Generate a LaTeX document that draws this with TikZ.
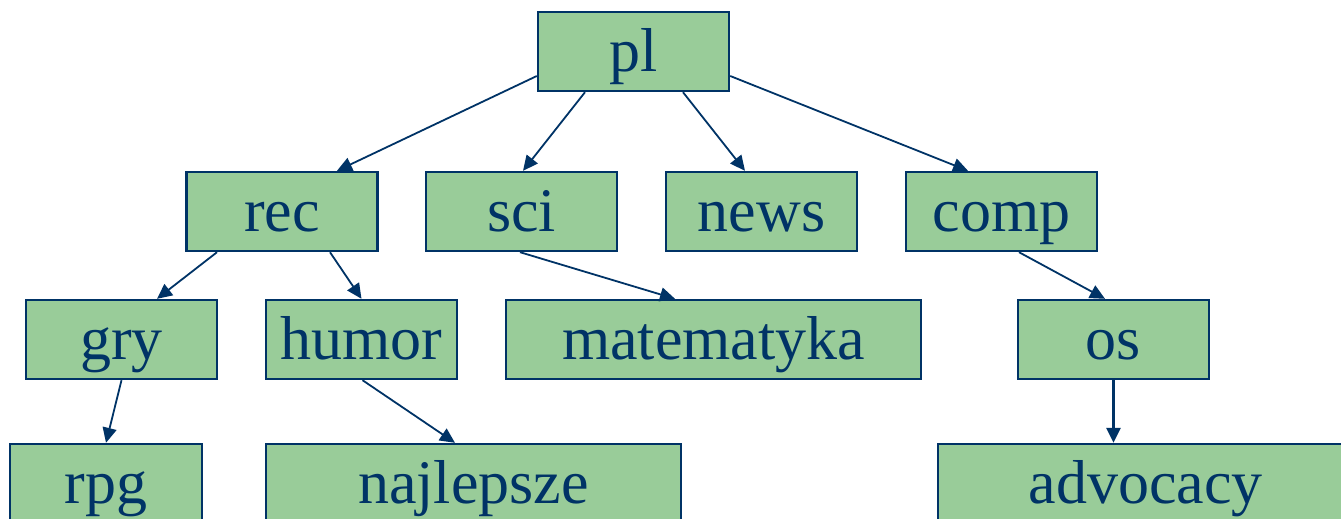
\documentclass[tikz,border=0pt]{standalone}
\usepackage{fontspec}
\setmainfont{Liberation Serif}
\usetikzlibrary{arrows.meta}
\definecolor{boxfill}{HTML}{99CC99}
\definecolor{navy}{HTML}{003366}
\begin{document}
\begin{tikzpicture}[x=1pt,y=-1pt,
  box/.style={draw=navy,fill=boxfill,line width=2.4pt,rectangle,inner sep=0pt,
    minimum width=191pt,minimum height=79pt,text=navy,
    font=\fontsize{62}{62}\selectfont,text height=40pt,text depth=0pt},
  widebox/.style={box,minimum width=415pt},
  conn/.style={draw=navy,line width=1.8pt,-{Triangle[length=15pt,width=14pt]}},
  thickconn/.style={conn,line width=3pt}]
\useasboundingbox (0,0) rectangle (1341,519);
\clip (0,0) rectangle (1341,519);
\node[box] (pl) at (633.5,51.5) {pl};
\node[box] (rec) at (282,211.5) {rec};
\node[box] (sci) at (521.5,211.5) {sci};
\node[box] (news) at (761.5,211.5) {news};
\node[box] (comp) at (1001.5,211.5) {comp};
\node[box] (gry) at (121.5,339.5) {gry};
\node[box] (humor) at (361.5,339.5) {humor};
\node[widebox] (mat) at (713.5,339.5) {matematyka};
\node[box] (os) at (1113.5,339.5) {os};
\node[box,minimum width=192pt] (rpg) at (106,483.5) {rpg};
\node[widebox] (naj) at (473.5,483.5) {najlepsze};
\node[widebox] (adv) at (1145.5,483.5) {advocacy};
\draw[conn] ([yshift=-24.5pt]pl.west) -- ([xshift=55pt]rec.north);
\draw[conn] ([xshift=-48.5pt]pl.south) -- ([xshift=1.5pt]sci.north);
\draw[conn] ([xshift=49.5pt]pl.south) -- ([xshift=-16.5pt]news.north);
\draw[conn] ([yshift=-24.5pt]pl.east) -- ([xshift=-33.5pt]comp.north);
\draw[conn] ([xshift=-65pt]rec.south) -- ([xshift=35.5pt]gry.north);
\draw[conn] ([xshift=48pt]rec.south) -- (humor.north);
\draw[conn] ([xshift=-1.5pt]sci.south) -- ([xshift=-38.5pt]mat.north);
\draw[conn] ([xshift=17.5pt]comp.south) -- ([xshift=-8.5pt]os.north);
\draw[conn] (gry.south) -- (rpg.north);
\draw[conn] ([xshift=1pt]humor.south) -- ([xshift=-18.5pt]naj.north);
\draw[thickconn] (os.south) -- ([xshift=-32pt]adv.north);
\end{tikzpicture}
\end{document}
